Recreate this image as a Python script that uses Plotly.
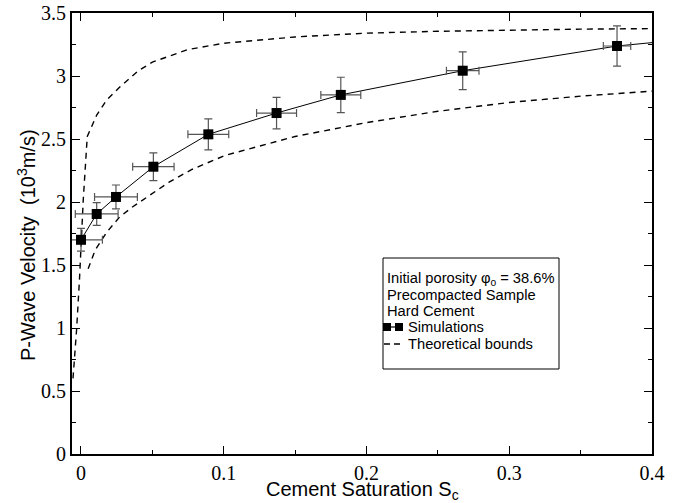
import plotly.graph_objects as go

# ---------------- data ----------------
sc = [0.0, 0.011, 0.0245, 0.0507, 0.0892, 0.137, 0.182, 0.2674, 0.3755]
vp = [1.70, 1.905, 2.04, 2.28, 2.537, 2.706, 2.85, 3.042, 3.238]
sc_err = [0.015, 0.015, 0.015, 0.0145, 0.0143, 0.014, 0.014, 0.0114, 0.0096]
vp_err = [0.09, 0.09, 0.095, 0.11, 0.123, 0.125, 0.14, 0.15, 0.16]
# simulation line continues beyond the last point (clipped at the axis edge)
tail_sc = [0.45]
tail_vp = [3.32]

upper_sc = [-0.0056, -0.003, -0.001, 0.0, 0.0016, 0.0044, 0.008, 0.011, 0.018, 0.027,
            0.04, 0.05, 0.075, 0.1, 0.15, 0.2, 0.25, 0.3, 0.35, 0.4]
upper_vp = [0.60, 1.00, 1.40, 1.65, 2.02, 2.52, 2.62, 2.69, 2.81, 2.91,
            3.04, 3.11, 3.21, 3.26, 3.31, 3.34, 3.355, 3.365, 3.372, 3.376]

lower_sc = [0.005, 0.01, 0.018, 0.027, 0.036, 0.05, 0.062, 0.078, 0.101,
            0.15, 0.2, 0.25, 0.3, 0.35, 0.4]
lower_vp = [1.47, 1.62, 1.76, 1.88, 1.96, 2.07, 2.16, 2.26, 2.37,
            2.52, 2.63, 2.72, 2.79, 2.84, 2.88]

x_ticks = [0, 0.1, 0.2, 0.3, 0.4]
y_ticks = [0, 0.5, 1, 1.5, 2, 2.5, 3, 3.5]

legend_lines = ["Initial porosity \u03c6<sub>o</sub> = 38.6%", "Precompacted Sample", "Hard Cement"]
legend_items = ["Simulations", "Theoretical bounds"]

x_title = "Cement Saturation S<sub>c</sub>"
y_title = "P-Wave Velocity  (10<sup>3</sup>m/s)"

# ---------------- figure ----------------
W, H = 679, 503
L, R, T, B = 72, 27, 13, 49
PW, PH = W - L - R, H - T - B


def px(x):
    return (x - L) / PW


def py(y):
    return (H - B - y) / PH


fig = go.Figure()

dash = "6px,5px"
fig.add_trace(go.Scatter(x=upper_sc, y=upper_vp, mode="lines",
                         line=dict(color="black", width=1.4, dash=dash), showlegend=False))
fig.add_trace(go.Scatter(x=lower_sc, y=lower_vp, mode="lines",
                         line=dict(color="black", width=1.4, dash=dash), showlegend=False))
fig.add_trace(go.Scatter(x=sc + tail_sc, y=vp + tail_vp, mode="lines",
                         line=dict(color="black", width=1), showlegend=False))
fig.add_trace(go.Scatter(
    x=sc, y=vp, mode="markers",
    marker=dict(symbol="square", size=10, color="black"),
    error_x=dict(type="data", array=sc_err, color="#555555", thickness=1.2, width=4),
    error_y=dict(type="data", array=vp_err, color="#555555", thickness=1.2, width=4),
    showlegend=False))

tickfont = dict(family="Liberation Serif, DejaVu Serif, serif", size=20, color="black")
titlefont = dict(family="Liberation Sans", size=20, color="black")

fig.update_xaxes(range=[-0.0063, 0.4], tickvals=x_ticks,
                 ticktext=[f"{v:g}" for v in x_ticks], automargin=False,
                 ticks="inside", ticklen=8, tickwidth=1, tickcolor="black",
                 minor=dict(dtick=0.05, ticks="inside", ticklen=4, tickcolor="black", showgrid=False),
                 showline=True, linecolor="black", linewidth=2, mirror="allticks",
                 showgrid=False, zeroline=False, tickfont=tickfont, ticklabelstandoff=0)
fig.update_yaxes(range=[0, 3.5], tickvals=y_ticks,
                 ticktext=[f"{v:g}" for v in y_ticks], automargin=False,
                 ticks="inside", ticklen=8, tickwidth=1, tickcolor="black",
                 minor=dict(dtick=0.25, ticks="inside", ticklen=4, tickcolor="black", showgrid=False),
                 showline=True, linecolor="black", linewidth=2, mirror="allticks",
                 showgrid=False, zeroline=False, tickfont=tickfont, ticklabelstandoff=0)

# ---------------- legend box (drawn) ----------------
shapes = []
shapes.append(dict(type="rect", xref="paper", yref="paper",
                   x0=px(383), x1=px(559), y0=py(369), y1=py(258),
                   line=dict(color="black", width=1), fillcolor="white", layer="above"))
# simulations symbol
shapes.append(dict(type="line", xref="paper", yref="paper", x0=px(387), x1=px(399),
                   y0=py(327), y1=py(327), line=dict(color="black", width=1.2)))
for cx in (387, 399):
    shapes.append(dict(type="rect", xref="paper", yref="paper", x0=px(cx - 4), x1=px(cx + 4),
                       y0=py(331), y1=py(323), fillcolor="black", line=dict(width=0)))
# theoretical bounds symbol
shapes.append(dict(type="line", xref="paper", yref="paper", x0=px(384), x1=px(402),
                   y0=py(344), y1=py(344), line=dict(color="black", width=1.4, dash="6px,4px")))

annotations = []
legfont = dict(family="Liberation Sans", size=14.7, color="black")
for i, t in enumerate(legend_lines):
    annotations.append(dict(text=t, xref="paper", yref="paper", x=px(385), y=py(279 + 16 * i),
                            xanchor="left", yanchor="middle", showarrow=False, font=legfont))
for i, t in enumerate(legend_items):
    annotations.append(dict(text=t, xref="paper", yref="paper", x=px(406), y=py(327 + 17 * i),
                            xanchor="left", yanchor="middle", showarrow=False, font=legfont))
# axis titles as annotations
annotations.append(dict(text=y_title, xref="paper", yref="paper", x=px(26), y=py(245),
                        xanchor="center", yanchor="middle", textangle=-90, showarrow=False,
                        font=titlefont))
annotations.append(dict(text=x_title, xref="paper", yref="paper", x=px(363), y=py(490),
                        xanchor="center", yanchor="middle", showarrow=False,
                        font=titlefont))

fig.update_layout(width=W, height=H, margin=dict(l=L, r=R, t=T, b=B, autoexpand=False),
                  plot_bgcolor="white", paper_bgcolor="white",
                  shapes=shapes, annotations=annotations, showlegend=False)

fig.write_html("out.html")
